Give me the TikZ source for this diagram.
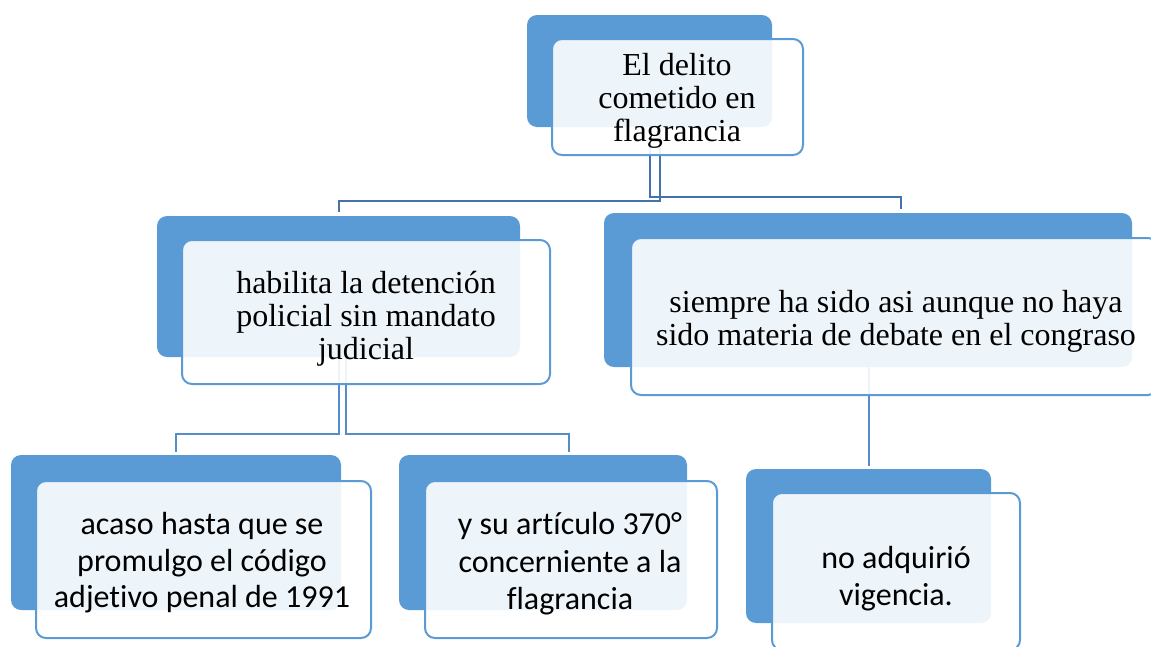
\documentclass[tikz,border=0pt]{standalone}
\usepackage{fontspec}
\setmainfont{Liberation Serif}
\newfontfamily\calib[Ligatures=NoCommon]{Carlito}
\definecolor{accent}{RGB}{91,155,213}
\definecolor{linkdark}{RGB}{68,114,170}
\definecolor{linkmid}{RGB}{84,141,201}
\begin{document}
\begin{tikzpicture}[x=1pt,y=-1pt,
  backbox/.style={draw=none, fill=accent, rounded corners=10pt, inner sep=0pt},
  frontbox/.style={draw=accent, line width=2pt, fill=white, fill opacity=0.9,
    rounded corners=10pt, inner sep=0pt},
  txt/.style={inner sep=0pt, align=center, text=black},
  serif/.style={txt, font=\fontsize{32}{33}\selectfont},
  sans/.style={txt, font=\calib\fontsize{32}{36.5}\selectfont},
  link/.style={draw=linkdark, line width=2pt},
  linkb/.style={draw=linkmid, line width=2pt}]
\useasboundingbox (0,0) rectangle (1151,646);
\clip (0,0) rectangle (1151,646);
% back boxes
\node[backbox, minimum width=245pt, minimum height=112pt] (rootB) at (649.5,71) {};
\node[backbox, minimum width=363pt, minimum height=141pt] (habB) at (338.5,286.5) {};
\node[backbox, minimum width=528pt, minimum height=154pt] (siemB) at (868,290) {};
\node[backbox, minimum width=330pt, minimum height=155pt] (acaB) at (176,532.5) {};
\node[backbox, minimum width=288pt, minimum height=155pt] (ysuB) at (543,532.5) {};
\node[backbox, minimum width=245pt, minimum height=154pt] (noB) at (868.5,546) {};
% connectors
\draw[link] ([xshift=10.5pt]rootB.south) -- ++(0,74) -| ([yshift=4pt]habB.north);
\draw[link] ([xshift=0.5pt]rootB.south) -- ++(0,70) -| ([xshift=33pt,yshift=4pt]siemB.north);
\draw[linkb] ([xshift=0.5pt]habB.south) -- ++(0,77) -| ([yshift=3pt]acaB.north);
\draw[linkb] ([xshift=7.5pt]habB.south) -- ++(0,77) -| ([xshift=26pt,yshift=3pt]ysuB.north);
\draw[linkb] (noB.north |- siemB.south) -- ([yshift=3pt]noB.north);
% front boxes
\node[frontbox, minimum width=251pt, minimum height=116pt] (root) at (677.5,97) {};
\node[frontbox, minimum width=368pt, minimum height=144pt] (hab) at (366,312) {};
\node[frontbox, minimum width=527pt, minimum height=157pt] (siem) at (894.5,316.5) {};
\node[frontbox, minimum width=335pt, minimum height=157pt] (aca) at (203.5,559.5) {};
\node[frontbox, minimum width=292pt, minimum height=157pt] (ysu) at (571,559.5) {};
\node[frontbox, minimum width=248pt, minimum height=157pt] (no) at (896,571.5) {};
% texts
\node[serif] (rootT) at (677,101) {El delito\\cometido en\\flagrancia};
\node[serif] (habT) at (366,319) {habilita la detención\\policial sin mandato\\judicial};
\node[serif] (siemT) at (896,321) {siempre ha sido asi aunque no haya\\sido materia de debate en el congraso};
\node[sans] (acaT) at (202,563) {acaso hasta que se\\promulgo el código\\adjetivo penal de 1991};
\node[sans, font=\calib\fontsize{32}{37.5}\selectfont] (ysuT) at (570,564) {y su artículo 370°\\concerniente a la\\flagrancia};
\node[sans, font=\calib\fontsize{32}{37}\selectfont] (noT) at (896,578.5) {no adquirió\\vigencia.};
\end{tikzpicture}
\end{document}
